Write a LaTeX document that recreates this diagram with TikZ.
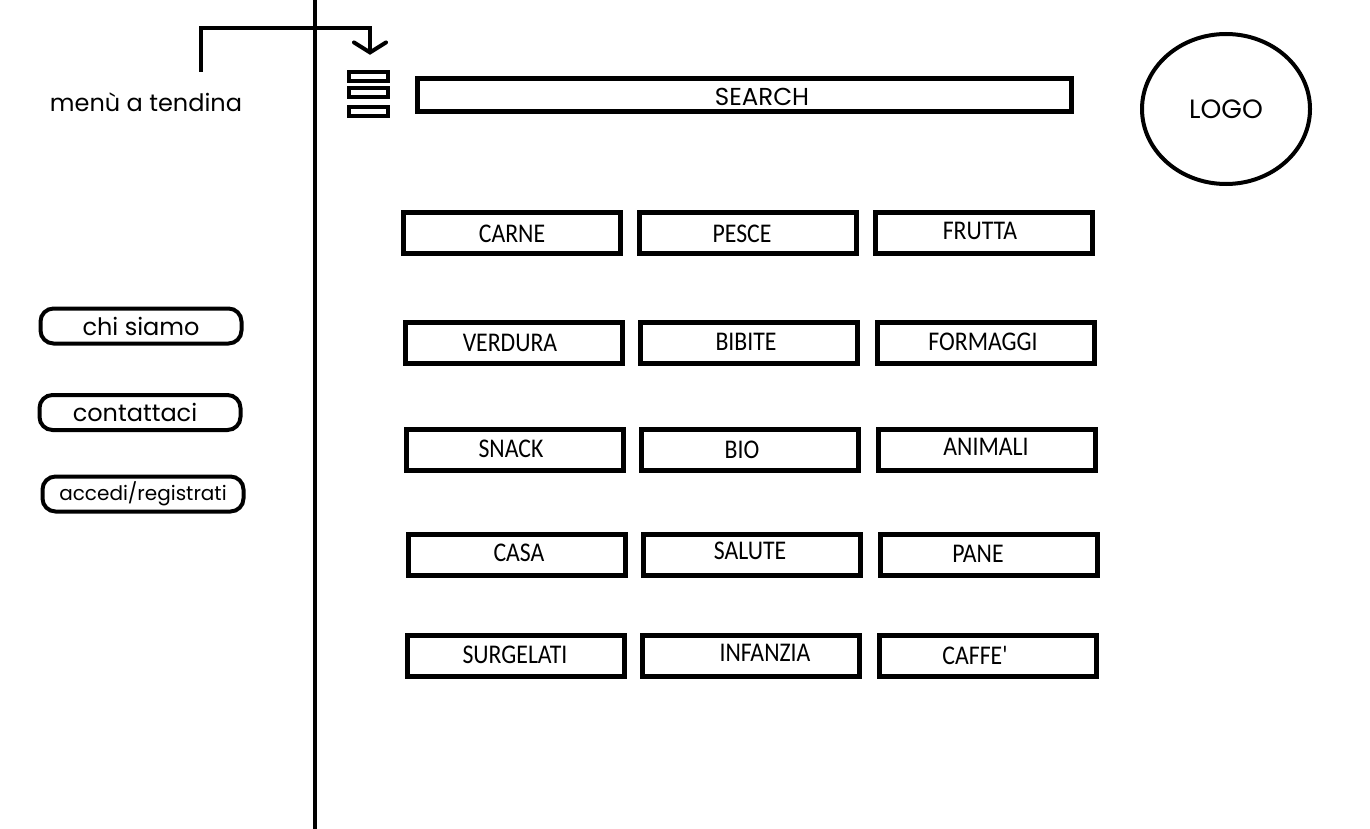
\documentclass[tikz,border=0pt]{standalone}
\usepackage{fontspec}
\setmainfont{Poppins}
\newfontfamily\catfont[FakeStretch=0.88]{Carlito}
\usetikzlibrary{arrows.meta,shapes.geometric}
\tikzset{
  catbox/.style={draw,line width=5pt,minimum width=217pt,minimum height=41pt,inner sep=0pt},
  cattext/.style={font=\catfont\fontsize{27}{28}\selectfont,inner sep=0pt},
  sidebtn/.style={draw,line width=4pt,rounded corners=13pt,minimum width=201pt,minimum height=35pt,inner sep=0pt,font=\fontsize{24}{26}\selectfont},
  menuarrow/.style={line width=4pt,-{Straight Barb[length=10pt,width=32pt,line cap=round]}}
}
\begin{document}
\begin{tikzpicture}[x=1pt,y=-1pt]
\fill[white] (0,0) rectangle (1370,829);
\useasboundingbox (0,0) rectangle (1370,829);
\begin{scope}
\draw[line width=4pt] (315,0)--(315,829);
\node[font=\fontsize{24}{26}\selectfont,inner sep=0pt] (menu) at (146,102) {menù a tendina};
\coordinate (arrowstart) at (201,72);
\node[minimum width=44pt,minimum height=48pt,inner sep=0pt] (hamb) at (370,94) {};
\foreach \y in {76.5,92.5,111.5} \draw[line width=3.5pt] (349,\y-4.5) rectangle (388,\y+4.5);
\draw[menuarrow] (arrowstart)--(arrowstart |- 0,28)--(hamb.north |- 0,28)--([yshift=15pt]hamb.north);
\end{scope}
\begin{scope}
\node[draw,line width=5pt,minimum width=654pt,minimum height=33pt,inner sep=0pt] (search) at (744,95.5) {};
\node[font=\fontsize{24.5}{26}\selectfont,inner sep=0pt] (searchtext) at (762,97) {SEARCH};
\node[draw,ellipse,line width=4pt,minimum width=168pt,minimum height=150pt,inner sep=0pt,font=\fontsize{26.5}{28}\selectfont] (logo) at (1226,109) {LOGO};
\end{scope}
\begin{scope}
\foreach \name/\bx/\by/\tx/\ty/\txt in {
  carne/512/233/512/234/CARNE, pesce/747.5/233/742/234/PESCE, frutta/984/233/980/231/FRUTTA,
  verdura/514/343/510/343/VERDURA, bibite/749/343/746/342/BIBITE, formaggi/986/343/983/342/FORMAGGI,
  snack/515/450/511/449/SNACK, bio/750/450/742/450/BIO, animali/987/450/986/447/ANIMALI,
  casa/517/555/519/553/CASA, salute/752/555/750/551/SALUTE, pane/989/555/978/554/PANE,
  surgelati/516/656/515/655/SURGELATI, infanzia/751/656/765/653/INFANZIA, caffe/988/656/975/655/CAFFE'}
{\node[catbox] (\name) at (\bx,\by) {};
 \node[cattext] (\name-t) at (\tx,\ty) {\txt};}
\end{scope}
\begin{scope}
\node[sidebtn] (chisiamo) at (141,326) {chi siamo};
\node[sidebtn] (contattaci) at (140,412.5) {contattaci\kern10pt\null};
\node[sidebtn,font=\fontsize{20}{22}\selectfont] (accedi) at (143,494) {accedi/registrati};
\end{scope}
\end{tikzpicture}
\end{document}
